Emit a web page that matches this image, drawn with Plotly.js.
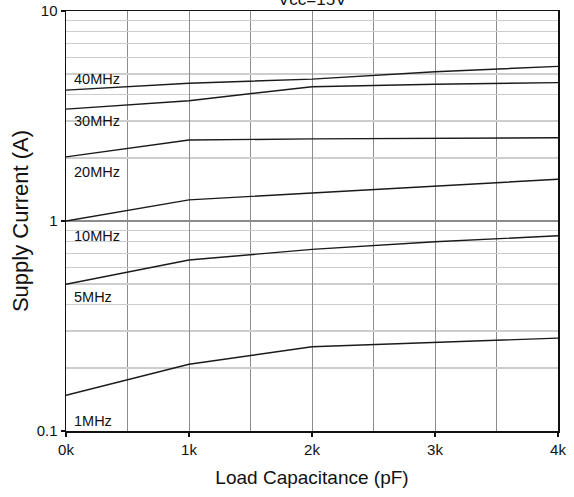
<!DOCTYPE html>
<html>
<head>
<meta charset="utf-8">
<script src="https://cdn.plot.ly/plotly-3.0.1.min.js"></script>
<style>html,body{margin:0;padding:0;background:#fff;}#chart{width:574px;height:497px;}</style>
</head>
<body>
<div id="chart"></div>
<script>
// Load capacitance (pF)
const loadCap = [0, 1000, 2000, 3000, 4000];
// Supply current (A) per switching frequency
const i40MHz = [4.20, 4.53, 4.74, 5.14, 5.45];
const i30MHz = [3.41, 3.74, 4.36, 4.48, 4.56];
const i20MHz = [2.02, 2.43, 2.46, 2.48, 2.49];
const i10MHz = [1.00, 1.26, 1.36, 1.47, 1.58];
const i5MHz  = [0.50, 0.652, 0.733, 0.796, 0.85];
const i1MHz  = [0.148, 0.208, 0.252, 0.265, 0.277];
const seriesNames = ["40MHz", "30MHz", "20MHz", "10MHz", "5MHz", "1MHz"];
const labelY = [4.74, 3.0, 1.72, 0.849, 0.436, 0.1116];
const labelX = [50, 50, 50, 50, 50, 50];
const xTickVals = [0, 1000, 2000, 3000, 4000];
const xTickText = ["0k", "1k", "2k", "3k", "4k"];
const yTickVals = [0.1, 1, 10];
const yTickText = ["0.1", "1", "10"];
const yMinorVals = [0.2,0.3,0.4,0.5,0.6,0.7,0.8,0.9,2,3,4,5,6,7,8,9];
const titleText = "Vcc=15V";

const FONT = 'Liberation Sans, Arial, sans-serif';
const allSeries = [i40MHz, i30MHz, i20MHz, i10MHz, i5MHz, i1MHz];
const traces = allSeries.map((ys, k) => ({
  x: loadCap, y: ys, type: 'scatter', mode: 'lines', name: seriesNames[k],
  line: {color: '#1a1a1a', width: 1.4}, hoverinfo: 'skip'
}));

const annotations = seriesNames.map((t, k) => ({
  x: labelX[k], y: Math.log10(labelY[k]), xref: 'x', yref: 'y',
  text: t, showarrow: false, xanchor: 'left', yanchor: 'middle',
  font: {family: FONT, size: 14.5, color: '#111'}
}));
annotations.push({
  x: 0.5, y: 1, xref: 'paper', yref: 'paper', yshift: 12,
  text: titleText, showarrow: false, xanchor: 'center', yanchor: 'middle',
  font: {family: FONT, size: 17, color: '#111'}
});

const layout = {
  width: 574, height: 497,
  margin: {l: 66, r: 16, t: 11, b: 66, pad: 0},
  paper_bgcolor: '#fff', plot_bgcolor: '#fff',
  showlegend: false,
  font: {family: FONT, color: '#111'},
  xaxis: {
    range: [0, 4000], tickmode: 'array', tickvals: xTickVals, ticktext: xTickText,
    showgrid: true, gridcolor: '#8c8c8c', gridwidth: 1,
    minor: {dtick: 500, showgrid: true, gridcolor: '#8c8c8c', gridwidth: 1, ticks: ''},
    ticks: 'outside', ticklen: 4, tickwidth: 1.2, tickcolor: '#111',
    showline: true, linecolor: '#111', linewidth: 1.5, mirror: true,
    zeroline: false,
    tickfont: {size: 15, family: FONT},
    title: {text: 'Load Capacitance (pF)', standoff: 14,
      font: {size: 19, family: FONT}}
  },
  yaxis: {
    type: 'log', range: [-1, 1], tickmode: 'array', tickvals: yTickVals, ticktext: yTickText,
    showgrid: true, gridcolor: '#8c8c8c', gridwidth: 1.2,
    minor: {tickmode: 'array', tickvals: yMinorVals, showgrid: true, gridcolor: '#cdcdcd', gridwidth: 1.6, ticks: ''},
    ticks: 'outside', ticklen: 4, tickwidth: 1.2, tickcolor: '#111',
    showline: true, linecolor: '#111', linewidth: 1.5, mirror: true,
    zeroline: false,
    tickfont: {size: 15, family: FONT},
    title: {text: 'Supply Current (A)', standoff: 2,
      font: {size: 22, family: FONT}}
  },
  annotations: annotations
};

Plotly.newPlot('chart', traces, layout, {staticPlot: true, displayModeBar: false});
</script>
</body>
</html>
